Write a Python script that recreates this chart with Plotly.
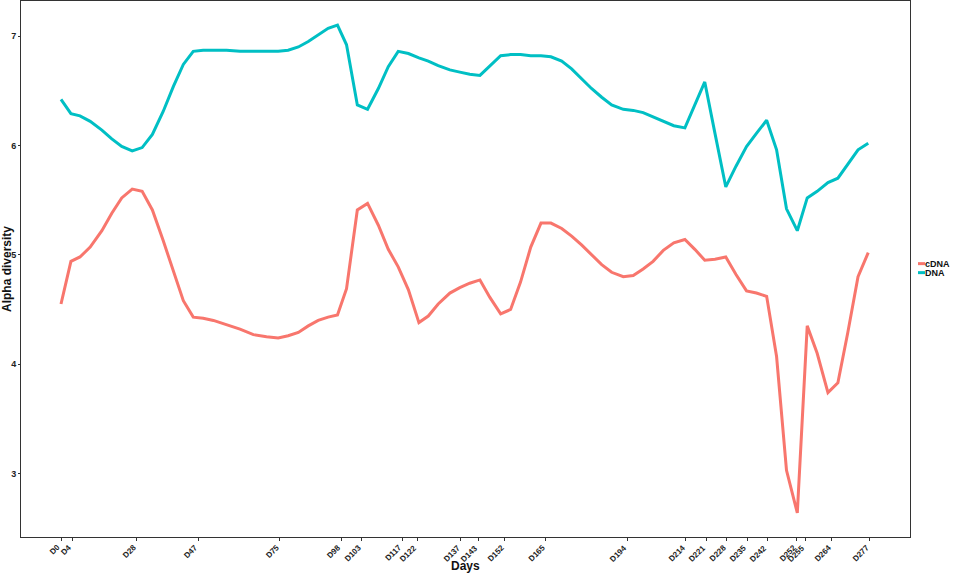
import plotly.graph_objects as go

days = [0, 3.4, 6.5, 10, 14, 17.4, 20.8, 24.4, 27.8, 31.3, 35, 38.5, 41.9, 45.3, 48.7,
        52.2, 56.7, 61.3, 65.9, 70.4, 74.4, 77.8, 81.3, 84.7, 88.1, 91.5, 94.7, 97.8,
        101.5, 105, 108.7, 112.1, 115.5, 119, 122.6, 125.8, 129.2, 133.2, 136.6, 140,
        143.5, 146.9, 150.6, 154, 157.4, 160.9, 164.4, 167.8, 171.5, 174.9, 178.3,
        181.7, 185.2, 188.6, 192.6, 196, 199.4, 202.8, 206.3, 209.9, 213.7, 217.1,
        220.5, 224, 227.7, 231.2, 234.8, 238.2, 241.7, 245.1, 248.5, 252.2, 255.6,
        259, 262.7, 266.1, 269.5, 273, 276.5]

dna = [6.42, 6.29, 6.27, 6.22, 6.14, 6.06, 5.99, 5.95, 5.98, 6.10, 6.31, 6.54, 6.74, 6.86,
       6.87, 6.87, 6.87, 6.86, 6.86, 6.86, 6.86, 6.87, 6.90, 6.95, 7.01, 7.07, 7.10, 6.92,
       6.37, 6.33, 6.52, 6.72, 6.86, 6.84, 6.80, 6.77, 6.73, 6.69, 6.67, 6.65, 6.64, 6.73,
       6.82, 6.83, 6.83, 6.82, 6.82, 6.81, 6.77, 6.70, 6.61, 6.52, 6.44, 6.37, 6.33, 6.32,
       6.30, 6.26, 6.22, 6.18, 6.16, 6.37, 6.58, 6.11, 5.62, 5.81, 5.99, 6.11, 6.23, 5.96,
       5.42, 5.22, 5.52, 5.58, 5.66, 5.70, 5.83, 5.96, 6.02]

cdna = [4.55, 4.94, 4.98, 5.07, 5.22, 5.38, 5.52, 5.60, 5.58, 5.41, 5.13, 4.84, 4.58, 4.43,
        4.42, 4.40, 4.36, 4.32, 4.27, 4.25, 4.24, 4.26, 4.29, 4.35, 4.40, 4.43, 4.45, 4.69,
        5.41, 5.47, 5.27, 5.05, 4.89, 4.68, 4.38, 4.44, 4.55, 4.65, 4.70, 4.74, 4.77, 4.61,
        4.46, 4.50, 4.75, 5.07, 5.29, 5.29, 5.24, 5.17, 5.09, 5.00, 4.91, 4.84, 4.80, 4.81,
        4.87, 4.94, 5.04, 5.11, 5.14, 5.05, 4.95, 4.96, 4.98, 4.82, 4.67, 4.65, 4.62, 4.07,
        3.03, 2.64, 4.35, 4.10, 3.74, 3.83, 4.29, 4.80, 5.02]

tick_days = [0, 4, 26, 47, 75, 96, 103, 117, 122, 137, 143, 152, 166, 194, 214, 221,
             228, 235, 242, 252, 255, 264, 277]
tick_labels = ["D0", "D4", "D28", "D47", "D75", "D98", "D103", "D117", "D122", "D137",
               "D143", "D152", "D165", "D194", "D214", "D221", "D228", "D235", "D242",
               "D252", "D255", "D264", "D277"]

y_ticks = [3, 4, 5, 6, 7]

series_names = ["cDNA", "DNA"]
series_colors = ["#F8766D", "#00BFC4"]

FONT = "Liberation Sans, Arial, sans-serif"
PLOT_W = 956 - 21 - 46
PLOT_H = 574 - 1 - 37

fig = go.Figure()
for name, vals, col in zip(series_names, [cdna, dna], series_colors):
    fig.add_trace(go.Scatter(x=days, y=vals, mode="lines", name=name,
                             line=dict(color=col, width=3)))

fig.update_layout(
    width=956, height=574,
    margin=dict(l=21, r=46, t=1, b=37, autoexpand=False),
    paper_bgcolor="white", plot_bgcolor="white",
    font=dict(family=FONT, color="#222"),
    showlegend=False,
    xaxis=dict(range=[-13.7, 290.8], tickmode="array", tickvals=tick_days,
               showticklabels=False,
               ticks="outside", ticklen=3, tickcolor="#333", tickwidth=1,
               showgrid=False, zeroline=False,
               showline=True, linecolor="#333", linewidth=1, mirror=True,
               automargin=False),
    yaxis=dict(range=[2.42, 7.32], tickmode="array", tickvals=y_ticks,
               ticktext=[str(v) for v in y_ticks],
               tickfont=dict(size=9, family=FONT, weight="bold", color="#222"),
               ticks="outside", ticklen=2, tickcolor="#333", tickwidth=1,
               showgrid=False, zeroline=False,
               showline=True, linecolor="#333", linewidth=1, mirror=True,
               automargin=False),
)

# rotated x tick labels, ending at each tick
for d, lab in zip(tick_days, tick_labels):
    fig.add_annotation(text=lab, x=d, xref="x", y=0, yref="paper",
                       xanchor="right", yanchor="top", xshift=4, yshift=-3,
                       textangle=-45, showarrow=False,
                       font=dict(size=8, family=FONT, weight="bold", color="#222"))

fig.add_annotation(text="Days", xref="paper", yref="paper", x=0.5, y=0,
                   yshift=-29, showarrow=False, yanchor="middle",
                   font=dict(size=12, family=FONT, weight="bold", color="#111"))
fig.add_annotation(text="Alpha diversity", xref="paper", yref="paper", x=0, y=0.5,
                   xshift=-14, showarrow=False, textangle=-90, xanchor="center",
                   font=dict(size=12, family=FONT, weight="bold", color="#111"))

# compact legend (keys + labels) on the right
for i, (name, col) in enumerate(zip(series_names, series_colors)):
    yc = 0.51 - i * 9 / PLOT_H
    fig.add_shape(type="line", xref="paper", yref="paper",
                  x0=1 + 8 / PLOT_W, x1=1 + 15 / PLOT_W, y0=yc, y1=yc,
                  line=dict(color=col, width=3))
    fig.add_annotation(text=name, xref="paper", yref="paper", x=1 + 15 / PLOT_W, y=yc,
                       xanchor="left", yanchor="middle", xshift=-2,
                       showarrow=False,
                       font=dict(size=9, family=FONT, weight="bold", color="#111"))

fig.write_html("out.html",
               config={"displayModeBar": False},
               post_script="document.body.style.margin='0';document.body.style.overflow='hidden';")
